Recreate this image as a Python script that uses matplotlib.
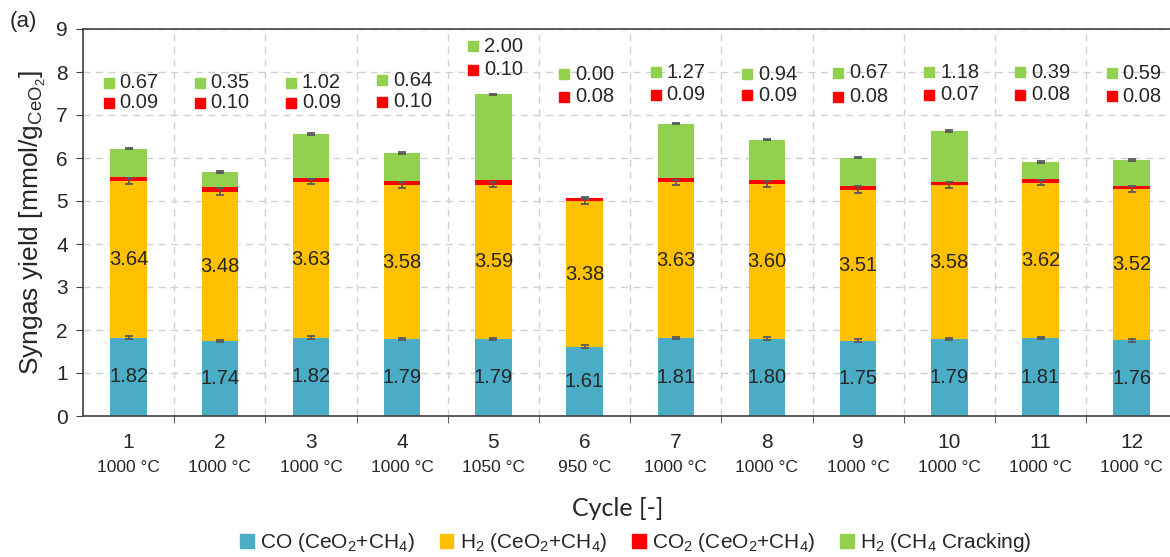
import matplotlib
matplotlib.use("Agg")
import matplotlib.pyplot as plt
import matplotlib.transforms as mtransforms
from matplotlib.patches import Patch
import numpy as np

plt.rcParams['font.family'] = ['Liberation Sans', 'DejaVu Sans']
plt.rcParams['mathtext.fontset'] = 'custom'
plt.rcParams['mathtext.rm'] = 'Liberation Sans'
plt.rcParams['mathtext.it'] = 'Liberation Sans:italic'

# data
cycles = [1, 2, 3, 4, 5, 6, 7, 8, 9, 10, 11, 12]
temps = ['1000 °C', '1000 °C', '1000 °C', '1000 °C', '1050 °C', '950 °C',
         '1000 °C', '1000 °C', '1000 °C', '1000 °C', '1000 °C', '1000 °C']
co = [1.82, 1.74, 1.82, 1.79, 1.79, 1.61, 1.81, 1.80, 1.75, 1.79, 1.81, 1.76]
h2 = [3.64, 3.48, 3.63, 3.58, 3.59, 3.38, 3.63, 3.60, 3.51, 3.58, 3.62, 3.52]
co2 = [0.09, 0.10, 0.09, 0.10, 0.10, 0.08, 0.09, 0.09, 0.08, 0.07, 0.08, 0.08]
h2_crack = [0.67, 0.35, 1.02, 0.64, 2.00, 0.00, 1.27, 0.94, 0.67, 1.18, 0.39, 0.59]

co_err = [0.03, 0.03, 0.03, 0.03, 0.03, 0.03, 0.03, 0.03, 0.03, 0.03, 0.03, 0.03]
h2_err = [0.07, 0.08, 0.06, 0.07, 0.06, 0.06, 0.06, 0.07, 0.08, 0.07, 0.06, 0.08]
tot_err = [0.02, 0.02, 0.02, 0.02, 0.02, 0.02, 0.02, 0.02, 0.02, 0.02, 0.02, 0.02]

# heights of the floating green / red labels above each bar
lab_green_y = [7.75, 7.75, 7.75, 7.81, 8.60, 7.95, 8.00, 7.95, 7.98, 8.00, 8.00, 7.97]
lab_red_y = [7.29, 7.29, 7.29, 7.31, 8.05, 7.43, 7.47, 7.46, 7.43, 7.47, 7.47, 7.44]

c_co = '#4BACC6'
c_h2 = '#FFC000'
c_co2 = '#FF0000'
c_crack = '#92D050'
c_txt = '#262626'
c_err = '#595959'

x = np.array(cycles)
co = np.array(co)
h2 = np.array(h2)
co2 = np.array(co2)
h2_crack = np.array(h2_crack)

fig = plt.figure(figsize=(11.7, 5.57), dpi=100)
ax = fig.add_axes([83 / 1170, 1 - 416 / 557, 1 - 83 / 1170, (416 - 29) / 557])

w = 0.4
ax.bar(x, co, w, color=c_co, zorder=2)
ax.bar(x, h2, w, bottom=co, color=c_h2, zorder=2)
ax.bar(x, co2, w, bottom=co + h2, color=c_co2, zorder=2)
ax.bar(x, h2_crack, w, bottom=co + h2 + co2, color=c_crack, zorder=2)

total = co + h2 + co2 + h2_crack
ek = dict(fmt='none', ecolor=c_err, elinewidth=1.3, capsize=3, capthick=1.3, zorder=4)
ax.errorbar(x, co, yerr=co_err, **ek)
ax.errorbar(x, co + h2, yerr=h2_err, **ek)
ax.errorbar(x, total, yerr=tot_err, **ek)

fs_val = 14.5
# value labels inside bars
for i in range(len(x)):
    ax.text(x[i], co[i] / 2, f'{co[i]:.2f}', ha='center', va='center',
            fontsize=fs_val, color=c_txt, zorder=5)
    ax.text(x[i], co[i] + h2[i] / 2, f'{h2[i]:.2f}', ha='center', va='center',
            fontsize=fs_val, color=c_txt, zorder=5)
    # floating labels with legend-key squares
    ax.plot(x[i] - 0.22, lab_green_y[i], 's', color=c_crack, ms=7.5, zorder=5)
    ax.text(x[i] - 0.10, lab_green_y[i], f'{h2_crack[i]:.2f}', ha='left', va='center',
            fontsize=fs_val, color=c_txt, zorder=5)
    ax.plot(x[i] - 0.22, lab_red_y[i], 's', color=c_co2, ms=7.5, zorder=5)
    ax.text(x[i] - 0.10, lab_red_y[i], f'{co2[i]:.2f}', ha='left', va='center',
            fontsize=fs_val, color=c_txt, zorder=5)

ax.set_xlim(0.5, 12.42)
ax.set_ylim(0, 9)
ax.set_yticks(range(0, 10))
ax.set_xticks(x)
ax.set_xticklabels([str(c) for c in cycles], fontsize=15, color=c_txt)
ax.set_xticks(np.arange(1.5, 12.5, 1), minor=True)
ax.tick_params(axis='x', which='major', length=0, pad=12)
ax.tick_params(axis='x', which='minor', length=5, direction='out', color='#404040')
ax.tick_params(axis='y', labelsize=15, labelcolor=c_txt, length=5, color='#404040', pad=6)

ax.grid(True, axis='y', which='major', color='#D0D0D0', ls=(0, (5, 4)), lw=1.0, zorder=0)
ax.grid(True, axis='x', which='minor', color='#D0D0D0', ls=(0, (5, 4)), lw=1.0, zorder=0)

for s in ['left', 'bottom', 'top']:
    ax.spines[s].set_color('#404040')
    ax.spines[s].set_linewidth(1.2)
ax.spines['right'].set_visible(False)

# temperatures under cycle numbers
trans = mtransforms.blended_transform_factory(ax.transData, ax.transAxes)
for i in range(len(x)):
    ax.text(x[i], -0.132, temps[i], transform=trans, ha='center', va='center',
            fontsize=12.5, color=c_txt)

ax.set_ylabel('Syngas yield [mmol/g$_{\\mathrm{CeO}_2}$]', fontsize=19, color=c_txt, labelpad=6)
fig.text(618 / 1170, 1 - 508 / 557, 'Cycle [-]', ha='center', va='center',
         fontsize=18, family=['Lato', 'DejaVu Sans'], color=c_txt)
fig.text(10 / 1170, 1 - 22 / 557, '(a)', ha='left', va='center', fontsize=16, color=c_txt)

handles = [Patch(color=c_co), Patch(color=c_h2), Patch(color=c_co2), Patch(color=c_crack)]
labels = ['CO (CeO$_2$+CH$_4$)', 'H$_2$ (CeO$_2$+CH$_4$)',
          'CO$_2$ (CeO$_2$+CH$_4$)', 'H$_2$ (CH$_4$ Cracking)']
fig.legend(handles, labels, loc='center', bbox_to_anchor=(636 / 1170, 1 - 543 / 557),
           ncol=4, frameon=False, fontsize=15, handlelength=0.65, handleheight=0.65,
           handletextpad=0.3, columnspacing=1.2, labelcolor=c_txt)

fig.savefig('out.png', dpi=100)
